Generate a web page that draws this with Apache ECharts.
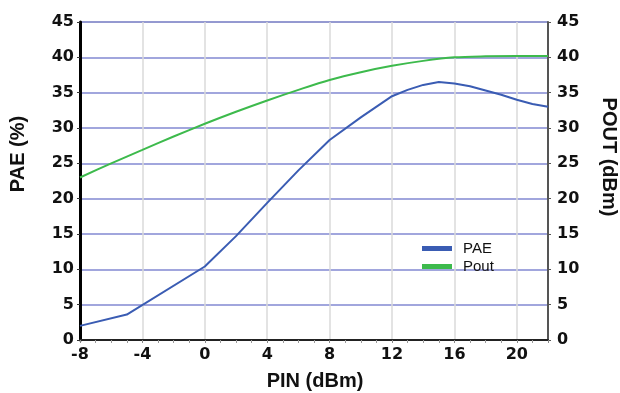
<!DOCTYPE html>
<html>
<head>
<meta charset="utf-8">
<script src="https://cdn.jsdelivr.net/npm/echarts@6/dist/echarts.min.js"></script>
<style>
html,body{margin:0;padding:0;background:#fff;}
#chart{width:620px;height:393px;}
</style>
</head>
<body>
<div id="chart"></div>
<script>
// Data
var pinPAE = [-8, -5, 0, 2, 4, 6, 8, 10, 12, 13, 14, 15, 16, 17, 18, 19, 20, 21, 22];
var pae    = [2.0, 3.6, 10.4, 14.7, 19.4, 24.0, 28.3, 31.5, 34.5, 35.4, 36.1, 36.5, 36.3, 35.9, 35.3, 34.7, 34.0, 33.4, 33.0];
var pinPout = [-8, -6, -4, -2, 0, 2, 4, 6, 8, 10, 12, 14, 16, 18, 20, 22];
var pout    = [23.0, 25.0, 26.9, 28.8, 30.6, 32.3, 33.9, 35.4, 36.8, 37.9, 38.8, 39.5, 40.0, 40.15, 40.2, 40.2];
var xTicks = [-8, -4, 0, 4, 8, 12, 16, 20];
var yTicks = [0, 5, 10, 15, 20, 25, 30, 35, 40, 45];

function pairs(xs, ys) { return xs.map(function (x, i) { return [x, ys[i]]; }); }

var tickFont = {fontFamily: 'DejaVu Sans', fontWeight: 'bold', fontSize: 16, color: '#111'};
var titleFont = 'bold 20px "Liberation Sans", Arial, sans-serif';

var chart = echarts.init(document.getElementById('chart'), null, {renderer: 'canvas'});
chart.setOption({
  animation: false,
  backgroundColor: '#ffffff',
  grid: {left: 80, right: 72, top: 22, bottom: 53, show: true, borderColor: '#9a9a9a', borderWidth: 1},
  legend: {
    orient: 'vertical', left: 417, top: 236, itemWidth: 30, itemHeight: 5, itemGap: 3,
    icon: 'rect',
    textStyle: {fontFamily: 'Liberation Sans', fontSize: 15, color: '#111', padding: [0, 0, 0, 6]},
    data: ['PAE', 'Pout']
  },
  xAxis: {
    type: 'value', min: xTicks[0], max: 22, interval: 4,
    axisLine: {show: true, onZero: false, lineStyle: {color: '#222', width: 2}},
    axisTick: {show: true, length: 3, lineStyle: {color: '#888'}},
    minorTick: {show: true, splitNumber: 4, length: 3, lineStyle: {color: '#999'}},
    axisLabel: Object.assign({margin: 7, showMaxLabel: false,
      formatter: function (v) { return xTicks.indexOf(v) >= 0 ? String(v) : ''; }}, tickFont),
    splitLine: {show: true, lineStyle: {color: '#dadada', width: 1.5}}
  },
  yAxis: [{
    type: 'value', min: yTicks[0], max: 45, interval: 5, position: 'left',
    axisLine: {show: true, onZero: false, lineStyle: {color: '#000', width: 3}},
    axisTick: {show: true, length: 3, lineStyle: {color: '#333'}},
    axisLabel: Object.assign({margin: 6}, tickFont),
    splitLine: {show: true, lineStyle: {color: '#8289d2', width: 1.5}}
  }, {
    type: 'value', min: yTicks[0], max: 45, interval: 5, position: 'right',
    axisLine: {show: true, onZero: false, lineStyle: {color: '#555', width: 2}},
    axisTick: {show: true, length: 3, lineStyle: {color: '#555'}},
    axisLabel: Object.assign({margin: 9}, tickFont),
    splitLine: {show: false}
  }],
  series: [{
    name: 'PAE', type: 'line', yAxisIndex: 0, showSymbol: false, smooth: false,
    data: pairs(pinPAE, pae),
    lineStyle: {color: '#3a5cb3', width: 2}, itemStyle: {color: '#3a5cb3'}, z: 4
  }, {
    name: 'Pout', type: 'line', yAxisIndex: 1, showSymbol: false, smooth: 0.3,
    data: pairs(pinPout, pout),
    lineStyle: {color: '#3dba4c', width: 2}, itemStyle: {color: '#3dba4c'}, z: 3
  }],
  graphic: [{
    type: 'text', x: 18, y: 154, rotation: Math.PI / 2,
    style: {text: 'PAE (%)', font: titleFont, fill: '#111', align: 'center', verticalAlign: 'middle'}
  }, {
    type: 'text', x: 609, y: 157, rotation: -Math.PI / 2,
    style: {text: 'POUT (dBm)', font: titleFont, fill: '#111', align: 'center', verticalAlign: 'middle'}
  }, {
    type: 'text', x: 315, y: 381,
    style: {text: 'PIN (dBm)', font: titleFont, fill: '#111', align: 'center', verticalAlign: 'middle'}
  }]
});
</script>
</body>
</html>
